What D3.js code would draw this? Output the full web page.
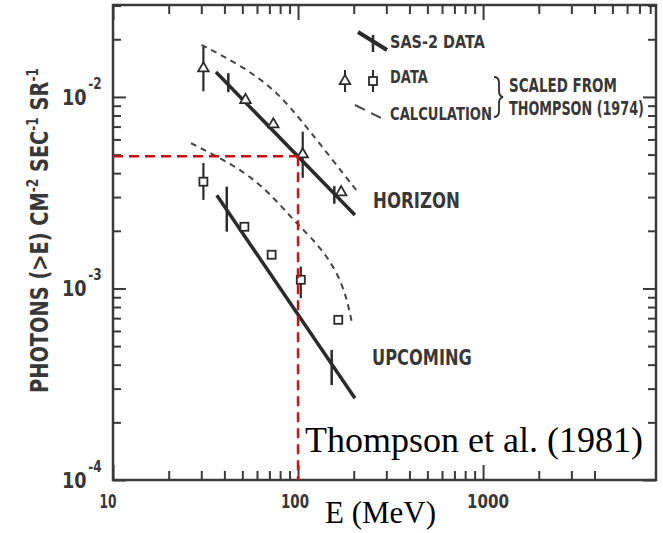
<!DOCTYPE html>
<html>
<head>
<meta charset="utf-8">
<script src="https://cdn.jsdelivr.net/npm/d3@7/dist/d3.min.js"></script>
<style>
  html, body { margin: 0; padding: 0; background: #fff; }
  svg { display: block; }
  .scan { font-family: "DejaVu Sans", sans-serif; font-weight: bold; fill: #383838; }
  .serif { font-family: "Liberation Serif", "Times New Roman", serif; fill: #000; }
</style>
</head>
<body>
<script>
var width = 663,
    height = 533;

// values (E in MeV, flux in photons cm^-2 s^-1 sr^-1)
var horizonFitE = [36, 203];
var horizonFitF = [1.35e-2, 2.42e-3];
var upcomingFitE = [36.4, 203];
var upcomingFitF = [3.07e-3, 2.67e-4];

var horizonSasE = [42, 157];
var horizonSasLo = [1.06e-2, 2.77e-3];
var horizonSasHi = [1.33e-2, 3.42e-3];
var upcomingSasE = [41.2, 152];
var upcomingSasLo = [1.98e-3, 3.13e-4];
var upcomingSasHi = [3.4e-3, 4.78e-4];

var horizonDataE = [30.8, 52, 73.5, 106, 171];
var horizonDataF = [1.41e-2, 9.64e-3, 7.19e-3, 5.02e-3, 3.18e-3];
var horizonDataLo = [1.07e-2, null, null, 3.78e-3, null];
var horizonDataHi = [1.83e-2, null, null, 6.59e-3, null];

var upcomingDataE = [30.8, 51.3, 72, 103.5, 165];
var upcomingDataF = [3.61e-3, 2.1e-3, 1.5e-3, 1.11e-3, 6.86e-4];
var upcomingDataLo = [2.9e-3, null, null, 8.9e-4, null];
var upcomingDataHi = [4.52e-3, null, null, 1.3e-3, null];

var horizonCalcE = [30.1, 50.6, 76.8, 107, 149, 206];
var horizonCalcF = [1.87e-2, 1.44e-2, 1.07e-2, 7.3e-3, 4.87e-3, 3.27e-3];
var upcomingCalcE = [26.4, 55, 83.3, 100, 137, 176, 195];
var upcomingCalcF = [5.73e-3, 4.0e-3, 2.62e-3, 2.15e-3, 1.59e-3, 1.06e-3, 6.71e-4];

var refE = 100, refF = 4.9e-3;

var xMajor = [10, 100, 1000];
var xMajorLabels = ["10", "100", "1000"];
var xMinorBottom = [20,30,40,50,60,70,80,90,200,300,400,500,600,700,800,900,2000,3000,4000];
var xMinorTop = xMinorBottom.concat([5000,6000,7000,8000]);
var yMajor = [1e-4, 1e-3, 1e-2];
var yMajorExp = ["-4", "-3", "-2"];
var yMinor = [2e-4,3e-4,4e-4,5e-4,6e-4,7e-4,8e-4,9e-4,2e-3,3e-3,4e-3,5e-3,6e-3,7e-3,8e-3,9e-3,2e-2,3e-2];

var ink = "#2b2b2b";

var svg = d3.select("body").append("svg")
    .attr("width", width)
    .attr("height", height);

var x = d3.scaleLog().domain([10, 8600]).range([113, 656]);
var y = d3.scaleLog().domain([1e-4, 0.0302]).range([480, 5]);

function zip(es, fs) {
    return es.map(function(e, i) { return {e: e, f: fs[i]}; });
}

// condensed lettering: draw, measure, then squeeze horizontally to the wanted width
function scanText(parent, tx, ty, str, size, w, anchor, rot) {
    var t = parent.append("text").attr("class", "scan")
        .attr("text-anchor", anchor || "start")
        .style("font-size", size + "px");
    if (typeof str === "string") t.text(str);
    else str(t);
    var len = t.node().getComputedTextLength();
    t.attr("transform", "translate(" + tx + "," + ty + ")" + (rot ? " rotate(" + rot + ")" : "") +
        " scale(" + (w / len) + ",1)");
    return t;
}

// frame
svg.append("rect")
    .attr("x", x.range()[0]).attr("y", y.range()[1])
    .attr("width", x.range()[1] - x.range()[0])
    .attr("height", y.range()[0] - y.range()[1])
    .attr("fill", "none").attr("stroke", "#3a3a3a").attr("stroke-width", 2.5);

function addAxis(axis, tr) {
    var g = svg.append("g").attr("transform", tr).call(axis);
    g.select(".domain").remove();
    g.selectAll("line").attr("stroke", "#3a3a3a").attr("stroke-width", 2);
    return g;
}

// bottom / top ticks pointing inwards
addAxis(d3.axisBottom(x).tickValues(xMinorBottom).tickSize(-9).tickFormat(""), "translate(0," + y.range()[0] + ")");
addAxis(d3.axisBottom(x).tickValues(xMajor).tickSize(-15).tickFormat(""), "translate(0," + y.range()[0] + ")");
addAxis(d3.axisTop(x).tickValues(xMinorTop).tickSize(-9).tickFormat(""), "translate(0," + y.range()[1] + ")");
addAxis(d3.axisTop(x).tickValues(xMajor).tickSize(-15).tickFormat(""), "translate(0," + y.range()[1] + ")");

// left / right ticks
addAxis(d3.axisLeft(y).tickValues(yMinor).tickSize(-8).tickFormat(""), "translate(" + x.range()[0] + ",0)");
addAxis(d3.axisLeft(y).tickValues(yMajor).tickSize(-13).tickFormat(""), "translate(" + x.range()[0] + ",0)");
addAxis(d3.axisRight(y).tickValues(yMinor).tickSize(-8).tickFormat(""), "translate(" + x.range()[1] + ",0)");
addAxis(d3.axisRight(y).tickValues(yMajor).tickSize(-13).tickFormat(""), "translate(" + x.range()[1] + ",0)");

// x labels
var xShift = [-5, -3, 5], xLabW = [17, 28, 42];
xMajor.forEach(function(d, i) {
    scanText(svg, x(d) + xShift[i], 508, xMajorLabels[i], 20, xLabW[i], "middle");
});

// y labels 10^-n
yMajor.forEach(function(d, i) {
    scanText(svg, 62, y(d) + 8, function(t) {
        t.append("tspan").text("10");
        t.append("tspan").attr("dx", 2).attr("dy", -16).style("font-size", "15px").text(yMajorExp[i]);
    }, 22, 38);
});

// y axis title
scanText(svg, 48, 393, function(t) {
    t.append("tspan").text("PHOTONS (>E) CM");
    t.append("tspan").attr("dy", -10).style("font-size", "15px").text("-2");
    t.append("tspan").attr("dy", 10).text(" SEC");
    t.append("tspan").attr("dy", -10).style("font-size", "15px").text("-1");
    t.append("tspan").attr("dy", 10).text(" SR");
    t.append("tspan").attr("dy", -10).style("font-size", "15px").text("-1");
}, 24, 325, "start", -90);

var line = d3.line()
    .x(function(d) { return x(d.e); })
    .y(function(d) { return y(d.f); });
var curve = d3.line()
    .x(function(d) { return x(d.e); })
    .y(function(d) { return y(d.f); })
    .curve(d3.curveBasis);

// calculation (dashed)
[zip(horizonCalcE, horizonCalcF), zip(upcomingCalcE, upcomingCalcF)].forEach(function(pts) {
    svg.append("path").attr("d", curve(pts))
        .attr("fill", "none").attr("stroke", "#444").attr("stroke-width", 2)
        .attr("stroke-dasharray", "6,5");
});

// SAS-2 fits
[zip(horizonFitE, horizonFitF), zip(upcomingFitE, upcomingFitF)].forEach(function(pts) {
    svg.append("path").attr("d", line(pts))
        .attr("fill", "none").attr("stroke", ink).attr("stroke-width", 3.5);
});

// error bars
function bars(es, lo, hi, w) {
    es.forEach(function(e, i) {
        if (lo[i] == null) return;
        svg.append("line")
            .attr("x1", x(e)).attr("x2", x(e))
            .attr("y1", y(lo[i])).attr("y2", y(hi[i]))
            .attr("stroke", ink).attr("stroke-width", w);
    });
}
bars(horizonSasE, horizonSasLo, horizonSasHi, 2.5);
bars(upcomingSasE, upcomingSasLo, upcomingSasHi, 2.5);
bars(horizonDataE, horizonDataLo, horizonDataHi, 2.2);
bars(upcomingDataE, upcomingDataLo, upcomingDataHi, 2.2);

// Thompson (1974) data markers
var tri = d3.symbol().type(d3.symbolTriangle).size(48);
svg.append("g").selectAll("path").data(zip(horizonDataE, horizonDataF)).enter().append("path")
    .attr("d", tri)
    .attr("transform", function(d) { return "translate(" + x(d.e) + "," + y(d.f) + ")"; })
    .attr("fill", "#fff").attr("stroke", ink).attr("stroke-width", 1.8);
svg.append("g").selectAll("rect").data(zip(upcomingDataE, upcomingDataF)).enter().append("rect")
    .attr("x", function(d) { return x(d.e) - 4; })
    .attr("y", function(d) { return y(d.f) - 4; })
    .attr("width", 8).attr("height", 8)
    .attr("fill", "#fff").attr("stroke", ink).attr("stroke-width", 1.8);

// curve labels
scanText(svg, 373, 208, "HORIZON", 22, 87);
scanText(svg, 372, 365, "UPCOMING", 22, 100);

// legend
var lg = svg.append("g");
lg.append("line").attr("x1", 358).attr("y1", 32).attr("x2", 387).attr("y2", 50)
    .attr("stroke", ink).attr("stroke-width", 4);
lg.append("line").attr("x1", 373).attr("y1", 35).attr("x2", 373).attr("y2", 52)
    .attr("stroke", ink).attr("stroke-width", 2.5);
lg.append("line").attr("x1", 345).attr("y1", 70).attr("x2", 345).attr("y2", 92)
    .attr("stroke", ink).attr("stroke-width", 2);
lg.append("path").attr("d", tri).attr("transform", "translate(345,81)")
    .attr("fill", "#fff").attr("stroke", ink).attr("stroke-width", 1.8);
lg.append("line").attr("x1", 373).attr("y1", 70).attr("x2", 373).attr("y2", 92)
    .attr("stroke", ink).attr("stroke-width", 2);
lg.append("rect").attr("x", 369).attr("y", 77).attr("width", 8).attr("height", 8)
    .attr("fill", "#fff").attr("stroke", ink).attr("stroke-width", 1.8);
lg.append("line").attr("x1", 355).attr("y1", 105).attr("x2", 385).attr("y2", 120)
    .attr("stroke", "#444").attr("stroke-width", 2).attr("stroke-dasharray", "11,7");
scanText(lg, 390, 48, "SAS-2 DATA", 18, 95);
scanText(lg, 390, 83, "DATA", 18, 38);
scanText(lg, 390, 120, "CALCULATION", 18, 102);
lg.append("path")
    .attr("d", "M494,77 q5,0 5,6 v8 q0,5 4,6 q-4,1 -4,6 v8 q0,6 -5,6")
    .attr("fill", "none").attr("stroke", ink).attr("stroke-width", 1.8);
scanText(lg, 509, 92, "SCALED FROM", 19, 108);
scanText(lg, 509, 115, "THOMPSON (1974)", 19, 135);

// red reference lines
var red = svg.append("g").attr("stroke", "#cc1111").attr("stroke-width", 2.5)
    .attr("stroke-dasharray", "10,6").attr("fill", "none");
red.append("line")
    .attr("x1", x.range()[0]).attr("x2", x(refE))
    .attr("y1", y(refF)).attr("y2", y(refF));
red.append("line")
    .attr("x1", x(refE)).attr("x2", x(refE))
    .attr("y1", y(refF)).attr("y2", y.range()[0]);

// overlay texts
svg.append("text").attr("class", "serif").attr("x", 305).attr("y", 452)
    .style("font-size", "36px").text("Thompson et al. (1981)");
svg.append("text").attr("class", "serif").attr("x", 325).attr("y", 523)
    .style("font-size", "31px").text("E (MeV)");
</script>
</body>
</html>
